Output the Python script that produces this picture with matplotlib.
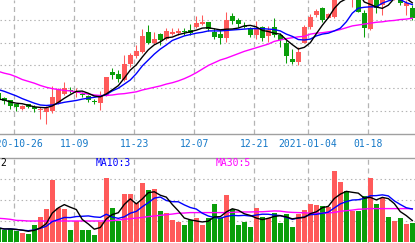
import matplotlib
matplotlib.use('Agg')
import matplotlib.pyplot as plt
import numpy as np
import pandas as pd

# trading days shown (2021-01-01 holiday removed)
dates = pd.bdate_range('2020-10-21', '2021-01-27')
dates = dates[dates != pd.Timestamp('2021-01-01')]

opens = [10.39, 10.28, 10.24, 10.15, 10.04, 10.15, 10.09, 10.02, 9.98, 10.00,
         10.17, 10.38, 10.46, 10.40, 10.38, 10.33, 10.21, 10.18, 10.35, 10.86,
         10.81, 10.68, 11.03, 11.21, 11.29, 11.74, 11.49, 11.69, 11.58, 11.69,
         11.71, 11.76, 11.78, 11.84, 11.91, 11.95, 11.74, 11.69, 11.61, 12.09,
         12.00, 11.87, 11.82, 11.67, 11.85, 11.65, 11.84, 11.67, 11.49, 11.14,
         11.08, 11.50, 11.85, 12.10, 12.26, 12.05, 12.06, 12.70, 12.78, 12.46,
         12.48, 12.15, 11.80, 12.57, 12.33, 12.77, 12.46, 12.55, 12.31, 12.26]
highs = [10.42, 10.30, 10.25, 10.16, 10.12, 10.16, 10.13, 10.08, 10.11, 10.55,
         10.50, 10.64, 10.52, 10.50, 10.42, 10.36, 10.26, 10.44, 10.75, 10.95,
         10.90, 11.23, 11.27, 11.45, 11.80, 11.89, 11.74, 11.71, 11.83, 11.82,
         11.82, 11.82, 11.91, 12.09, 12.11, 11.96, 11.82, 11.78, 12.18, 12.16,
         12.05, 11.96, 11.85, 11.98, 11.87, 11.87, 12.05, 11.71, 11.56, 11.36,
         11.40, 11.89, 12.13, 12.24, 12.29, 12.15, 12.92, 12.85, 12.85, 12.70,
         12.55, 12.22, 12.55, 12.62, 12.57, 12.84, 12.66, 12.59, 12.44, 12.33]
lows = [10.24, 10.15, 10.04, 10.00, 10.03, 10.06, 9.98, 9.82, 9.71, 9.95,
        10.15, 10.35, 10.39, 10.31, 10.31, 10.20, 10.15, 10.02, 10.33, 10.70,
        10.64, 10.66, 10.97, 11.16, 11.27, 11.47, 11.47, 11.45, 11.56, 11.67,
        11.67, 11.67, 11.67, 11.82, 11.89, 11.76, 11.58, 11.47, 11.52, 11.91,
        11.85, 11.82, 11.63, 11.58, 11.54, 11.52, 11.63, 11.40, 11.05, 11.03,
        11.00, 11.49, 11.80, 12.07, 11.96, 12.04, 12.04, 12.60, 12.50, 12.29,
        12.17, 11.62, 11.78, 12.15, 12.11, 12.46, 12.45, 12.33, 12.11, 12.00]
closes = [10.26, 10.22, 10.11, 10.09, 10.11, 10.09, 10.05, 10.04, 10.06, 10.31,
          10.48, 10.50, 10.44, 10.42, 10.34, 10.24, 10.20, 10.35, 10.74, 10.79,
          10.70, 11.03, 11.23, 11.32, 11.65, 11.49, 11.58, 11.56, 11.76, 11.73,
          11.76, 11.74, 11.72, 11.93, 11.96, 11.80, 11.62, 11.61, 12.00, 11.98,
          11.91, 11.85, 11.67, 11.83, 11.60, 11.78, 11.67, 11.56, 11.21, 11.07,
          11.30, 11.85, 12.07, 12.20, 12.00, 12.13, 12.88, 12.77, 12.55, 12.66,
          12.18, 11.82, 12.51, 12.26, 12.51, 12.53, 12.57, 12.37, 12.38, 12.04]
ma10 = [10.47, 10.43, 10.38, 10.33, 10.27, 10.22, 10.17, 10.13, 10.12, 10.13,
        10.16, 10.19, 10.21, 10.23, 10.26, 10.28, 10.30, 10.32, 10.36, 10.44,
        10.50, 10.59, 10.68, 10.82, 10.99, 11.12, 11.25, 11.36, 11.45, 11.55,
        11.60, 11.65, 11.68, 11.71, 11.73, 11.76, 11.76, 11.76, 11.77, 11.78,
        11.79, 11.80, 11.81, 11.81, 11.81, 11.80, 11.79, 11.76, 11.69, 11.64,
        11.57, 11.56, 11.58, 11.65, 11.69, 11.71, 11.76, 11.82, 11.96, 12.15,
        12.26, 12.28, 12.29, 12.29, 12.37, 12.42, 12.46, 12.45, 12.38, 12.34]
ma30 = [10.87, 10.83, 10.80, 10.75, 10.69, 10.65, 10.61, 10.56, 10.52, 10.49,
        10.47, 10.45, 10.44, 10.42, 10.39, 10.37, 10.35, 10.34, 10.34, 10.35,
        10.37, 10.38, 10.40, 10.42, 10.46, 10.49, 10.52, 10.55, 10.59, 10.62,
        10.66, 10.71, 10.77, 10.84, 10.92, 11.00, 11.06, 11.12, 11.16, 11.21,
        11.26, 11.31, 11.35, 11.39, 11.43, 11.47, 11.53, 11.56, 11.59, 11.61,
        11.63, 11.64, 11.69, 11.71, 11.72, 11.74, 11.76, 11.79, 11.83, 11.87,
        11.89, 11.91, 11.93, 11.95, 11.96, 11.98, 11.99, 12.01, 12.02, 12.04]

volumes = [0.67, 0.57, 0.63, 0.52, 0.43, 0.40, 0.80, 1.19, 1.56, 2.95,
           1.63, 1.57, 0.57, 1.01, 0.57, 0.57, 0.33, 0.97, 3.05, 1.62,
           1.00, 2.30, 2.30, 1.86, 2.80, 2.48, 2.52, 1.48, 1.40, 1.05,
           0.97, 0.81, 1.05, 1.13, 0.81, 1.16, 1.81, 1.13, 2.24, 1.57,
           0.81, 0.97, 0.73, 1.62, 1.20, 1.13, 1.40, 0.92, 1.33, 0.73,
           1.35, 1.52, 1.82, 1.76, 1.71, 1.68, 3.38, 2.86, 2.43, 1.48,
           1.48, 2.19, 3.05, 1.82, 2.08, 1.19, 1.00, 1.14, 0.87, 0.90]
vol_ma30 = [1.13, 1.11, 1.08, 1.03, 1.02, 1.00, 1.00, 1.00, 1.00, 1.00,
            1.00, 1.00, 1.00, 1.00, 1.00, 1.00, 1.00, 1.00, 1.00, 1.02,
            1.05, 1.08, 1.11, 1.14, 1.17, 1.21, 1.24, 1.27, 1.30, 1.33,
            1.37, 1.38, 1.40, 1.40, 1.40, 1.40, 1.40, 1.40, 1.40, 1.41,
            1.43, 1.43, 1.43, 1.44, 1.44, 1.46, 1.48, 1.47, 1.43, 1.41,
            1.40, 1.39, 1.37, 1.37, 1.37, 1.38, 1.41, 1.46, 1.49, 1.52,
            1.56, 1.57, 1.59, 1.59, 1.59, 1.59, 1.59, 1.59, 1.59, 1.58]

tick_dates = ['2020-10-26', '2020-11-09', '2020-11-23', '2020-12-07',
              '2020-12-21', '2021-01-04', '2021-01-18']
tick_labels = ['2020-10-26', '11-09', '11-23', '12-07', '12-21', '2021-01-04', '01-18']

RED = '#ff5a5a'
GREEN = '#0a9e0a'
GRID = '#b4b4b4'

x = np.arange(len(dates))
o = np.array(opens)
c = np.array(closes)
up = c >= o
colors = np.where(up, RED, GREEN)
ma5 = pd.Series(closes).rolling(5, min_periods=1).mean()
vol_ma5 = pd.Series(volumes).rolling(5, min_periods=1).mean()
vol_ma10 = pd.Series(volumes).rolling(10, min_periods=1).mean()

tick_pos = [list(dates).index(pd.Timestamp(d)) - 0.36 for d in tick_dates]

fig = plt.figure(figsize=(4.15, 2.43), dpi=100)
ax = fig.add_axes([0, 109 / 243, 1, 134 / 243])
axv = fig.add_axes([0, 0, 1, 85 / 243])

# k线
ax.vlines(x, lows, highs, colors=colors, linewidth=0.75, zorder=2)
body = np.maximum(np.abs(c - o), 0.022)
ax.bar(x, body, bottom=np.minimum(o, c), width=0.78, color=colors, linewidth=0, zorder=3)
ax.plot(x, ma30, color='#ff00ff', lw=1.0, zorder=4)
ax.plot(x, ma10, color='#0000ff', lw=1.0, zorder=4)
ax.plot(x, ma5, color='black', lw=1.0, zorder=4)

ax.set_xlim(0.283, 69.45)
ax.set_ylim(9.492, 12.44)
ax.set_yticks([10.0, 10.5, 11.0, 11.5, 12.0])
ax.set_xticks(tick_pos)
ax.set_xticklabels(tick_labels, family='DejaVu Sans Mono', fontsize=7, color='#1478c8')
ax.tick_params(axis='x', length=0, pad=3.5)
ax.tick_params(axis='y', length=0, labelleft=False)
ax.grid(axis='y', color=GRID, lw=0.8, linestyle=(0, (1.3, 2.5)))
ax.grid(axis='x', color=GRID, lw=0.9, linestyle=(0, (4, 3)))
for s in ['top', 'left', 'right']:
    ax.spines[s].set_visible(False)
ax.spines['bottom'].set_color('#a0a0a0')
ax.spines['bottom'].set_linewidth(1.0)

# 成交量
axv.bar(x, volumes, width=0.8, color=colors, linewidth=0, zorder=2)
axv.plot(x, vol_ma30, color='#ff00ff', lw=1.0, zorder=3)
axv.plot(x, vol_ma10, color='#0000ff', lw=1.0, zorder=3)
axv.plot(x, vol_ma5, color='black', lw=1.0, zorder=3)
axv.set_xlim(0.283, 69.45)
axv.set_ylim(-0.048, 4.0)
axv.set_yticks([1, 2, 3])
axv.set_xticks(tick_pos)
axv.tick_params(length=0, labelbottom=False, labelleft=False)
axv.grid(axis='y', color=GRID, lw=0.8, linestyle=(0, (1.3, 2.5)))
axv.grid(axis='x', color=GRID, lw=0.9, linestyle=(0, (4, 3)))
for s in ['bottom', 'left', 'right']:
    axv.spines[s].set_visible(False)
axv.spines['top'].set_color('#a0a0a0')
axv.spines['top'].set_linewidth(1.0)

fig.text(0 / 415, 1 - 163.5 / 243, '2', family='DejaVu Sans Mono', fontsize=7, color='black', va='center')
fig.text(96 / 415, 1 - 163.5 / 243, 'MA10:3', family='DejaVu Sans Mono', fontsize=7, color='#0000ff', va='center')
fig.text(216 / 415, 1 - 163.5 / 243, 'MA30:5', family='DejaVu Sans Mono', fontsize=7, color='#ff00ff', va='center')

fig.savefig('out.png', dpi=100)
